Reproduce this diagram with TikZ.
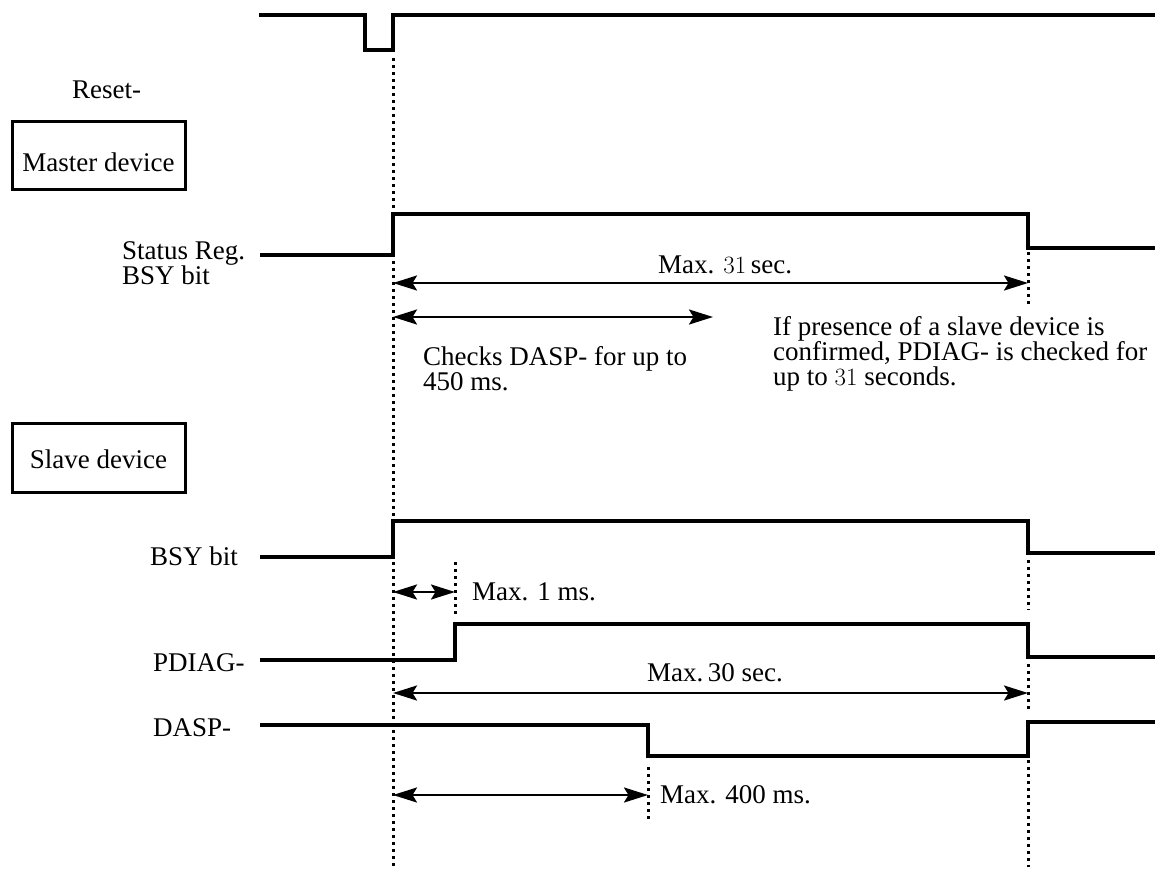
\documentclass[tikz,border=0pt]{standalone}
\usepackage{fontspec}
\setmainfont{Liberation Serif}
\usetikzlibrary{arrows.meta}
\begin{document}
\begin{tikzpicture}[x=1pt,y=-1pt,
  sig/.style={line width=4pt, line join=miter},
  guide/.style={line width=3pt, dash pattern=on 2.8pt off 4.2pt},
  dim/.style={line width=2.5pt, {Stealth[length=24pt,width=15pt,inset=4.5pt]}-{Stealth[length=24pt,width=15pt,inset=4.5pt]}},
  lbl/.style={font=\fontsize{27}{23.5}\selectfont, inner sep=0pt},
  para/.style={font=\fontsize{27}{25}\selectfont, inner sep=0pt, align=left},
  devbox/.style={draw, line width=3pt, inner sep=0pt, minimum width=173pt, font=\fontsize{27}{23.5}\selectfont}
]
\useasboundingbox (0,0) rectangle (1155,871);

% labels
\node[lbl, anchor=base west] (reset) at (72,98) {Reset-};
\node[devbox, anchor=base, text height=50pt, text depth=18pt] (master) at (98.5,171) {Master device};
\node[devbox, anchor=base, text height=45pt, text depth=24pt] (slave) at (98.5,468) {Slave device};
\node[lbl, anchor=base west] (stat1) at (122,259) {Status Reg.};
\node[lbl, anchor=base west] (stat2) at (122,284) {BSY bit};
\node[lbl, anchor=base west] (sbsy) at (150,565) {BSY bit};
\node[lbl, anchor=base west] (pdiag) at (153,671) {PDIAG-};
\node[lbl, anchor=base west] (dasp) at (153,736) {DASP-};

% reset waveform
\coordinate (r0) at (259,15);
\coordinate (rdip) at (393,50);
\draw[sig] (r0) -- (365,15) -- (365,50) -- (rdip) -- (393,15) -- (1155,15);

% master BSY
\coordinate (m0) at (260,255);
\coordinate (mr) at (393,255);
\coordinate (mf) at (1028,248);
\draw[sig] (m0) -- (mr) -- (393,214) -- (1028,214) -- (mf) -- (1155,248);

% slave BSY
\coordinate (s0) at (260,557);
\coordinate (sr) at (393,557);
\coordinate (sf) at (1028,553);
\draw[sig] (s0) -- (sr) -- (393,521) -- (1028,521) -- (sf) -- (1155,553);

% PDIAG-
\coordinate (p0) at (260,660);
\coordinate (pr) at (455,660);
\coordinate (pf) at (1028,657);
\draw[sig] (p0) -- (pr) -- (455,624) -- (1028,624) -- (pf) -- (1155,657);

% DASP-
\coordinate (d0) at (260,725);
\coordinate (df) at (648,756);
\coordinate (dr) at (1028,756);
\draw[sig] (d0) -- (648,725) -- (df) -- (dr) -- (1028,722) -- (1155,722);

% guide lines
\coordinate (g0top) at (393,58);
\coordinate (g0bot) at (393,867);
\draw[guide] (g0top) -- (g0bot);
\coordinate (g1a) at (1028,252);
\coordinate (g1b) at (1028,304);
\draw[guide] (g1a) -- (g1b);
\coordinate (g2a) at (1028,560);
\coordinate (g2b) at (1028,610);
\draw[guide] (g2a) -- (g2b);
\coordinate (g3a) at (1028,664);
\coordinate (g3b) at (1028,712);
\draw[guide] (g3a) -- (g3b);
\coordinate (g4a) at (1028,760);
\coordinate (g4b) at (1028,867);
\draw[guide] (g4a) -- (g4b);
\coordinate (g5a) at (455,562);
\coordinate (g5b) at (455,614);
\draw[guide] (g5a) -- (g5b);
\coordinate (g6a) at (648,767);
\coordinate (g6b) at (648,821);
\draw[guide] (g6a) -- (g6b);

% dimension arrows
\coordinate (a31l) at (393,283);
\coordinate (a31r) at (1028,283);
\draw[dim] (a31l) -- (a31r);
\coordinate (achl) at (393,317);
\coordinate (achr) at (713,317);
\draw[dim] (achl) -- (achr);
\coordinate (a1l) at (393,592);
\coordinate (a1r) at (455,592);
\draw[dim] (a1l) -- (a1r);
\coordinate (a30l) at (393,693);
\coordinate (a30r) at (1028,693);
\draw[dim] (a30l) -- (a30r);
\coordinate (a400l) at (393,795);
\coordinate (a400r) at (648,795);
\draw[dim] (a400l) -- (a400r);

% annotations
\node[lbl, anchor=base west] (t31) at (658,273) {Max. $31$\,sec.};
\node[lbl, anchor=base west] (t30) at (647,681) {Max.\,30 sec.};
\node[lbl, anchor=base west] (t1) at (472,600) {Max. 1 ms.};
\node[lbl, anchor=base west] (t400) at (660,803) {Max. 400 ms.};
\node[para, anchor=base west] (tch) at (423,390) {Checks DASP- for up to\\450 ms.};
\node[para, anchor=base west] (tif) at (773,385) {If presence of a slave device is\\confirmed, PDIAG- is checked for\\up to $31$ seconds.};
\end{tikzpicture}
\end{document}
